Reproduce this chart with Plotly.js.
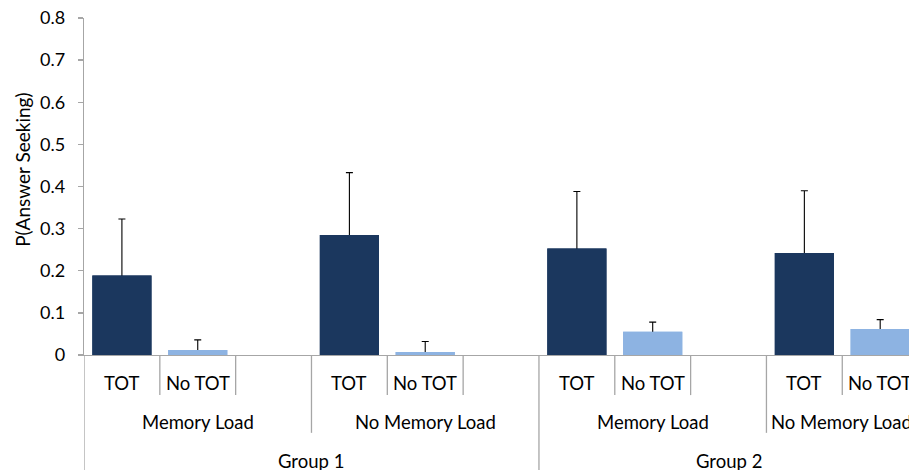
<!DOCTYPE html>
<html>
<head>
<meta charset="utf-8">
<script src="https://cdn.plot.ly/plotly-3.0.1.min.js"></script>
<style>html,body{margin:0;padding:0;background:#fff;}#chart{width:909px;height:470px;}</style>
</head>
<body>
<div id="chart"></div>
<script>
// ---- data ----
const groupLabels = ['Group 1', 'Group 2'];
const loadLabels = ['Memory Load', 'No Memory Load'];
const barLabels = ['TOT', 'No TOT'];
const totValues = [0.189, 0.285, 0.253, 0.242];
const totErrors = [0.134, 0.148, 0.135, 0.148];
const noTotValues = [0.012, 0.007, 0.055, 0.062];
const noTotErrors = [0.024, 0.025, 0.023, 0.022];
const yTitle = 'P(Answer Seeking)';

// ---- layout helpers ----
const SLOTS_PER_LOAD = 3;
const nBlocks = groupLabels.length * loadLabels.length;
const totX = [], noTotX = [];
for (let k = 0; k < nBlocks; k++) { totX.push(k * SLOTS_PER_LOAD); noTotX.push(k * SLOTS_PER_LOAD + 1); }

const FONT = 'Lato, "Open Sans", sans-serif';
const GRAY = '#a6a6a6';
const DARK = '#1b375e', LIGHT = '#8db3e2';
const xMax = 10.38;
const BW = 0.78;

// error bars drawn from a trace underneath; the lower cap is hidden by the bar drawn on top
const errTrace = (x, y, err, color) => ({
  type: 'bar', x, y, width: BW, marker: {color},
  error_y: {type: 'data', symmetric: false, array: err, arrayminus: y.map(v => Math.min(0.005, v / 2)),
            color: '#000', thickness: 1.1, width: 3.5},
  hoverinfo: 'skip', showlegend: false});
const barTrace = (x, y, color) => ({type: 'bar', x, y, width: BW, marker: {color}, hoverinfo: 'skip', showlegend: false});

const traces = [
  errTrace(totX, totValues, totErrors, DARK),
  errTrace(noTotX, noTotValues, noTotErrors, LIGHT),
  barTrace(totX, totValues, DARK),
  barTrace(noTotX, noTotValues, LIGHT)
];

const ROW1 = -0.082, ROW2 = -0.198, ROW3 = -0.314;
const LINE1 = -0.119, LINE2 = -0.231, LINE3 = -0.5;
const annotations = [], shapes = [];
const LBL = 18.5;
const txt = (x, y, text, xanchor) => annotations.push({x, y, xref: 'x', yref: 'paper', text, showarrow: false, xanchor: xanchor || 'center', yanchor: 'middle', font: {family: FONT, size: LBL, color: '#000'}});
const vline = (x, y1) => shapes.push({type: 'line', xref: 'x', yref: 'paper', x0: x, x1: x, y0: 0, y1: y1, line: {color: GRAY, width: 1.3}});

for (let k = 0; k < nBlocks; k++) {
  const base = k * SLOTS_PER_LOAD;
  txt(totX[k], ROW1, barLabels[0]);
  txt(noTotX[k], ROW1, barLabels[1]);
  vline(base + 0.5, LINE1);
  vline(base + 1.5, LINE1);
  const li = k % loadLabels.length;
  const blockStart = base - 0.5, blockEnd = base + SLOTS_PER_LOAD - 0.5;
  if (blockEnd <= xMax) txt((blockStart + blockEnd) / 2, ROW2, loadLabels[li]);
  else txt(blockStart + 0.04, ROW2, loadLabels[li], 'left');
  if (k > 0) vline(blockStart, li === 0 ? LINE3 : LINE2);
}
for (let g = 0; g < groupLabels.length; g++) {
  const gs = g * loadLabels.length * SLOTS_PER_LOAD - 0.5;
  const ge = Math.min(gs + loadLabels.length * SLOTS_PER_LOAD, xMax + 0.13);
  txt((gs + ge) / 2, ROW3, groupLabels[g]);
}
vline(-0.5, LINE3);

// y-axis title placed as rotated text
annotations.push({xref: 'paper', yref: 'paper', x: -0.0745, y: 0.548, text: yTitle, textangle: -90,
  showarrow: false, xanchor: 'center', yanchor: 'middle', font: {family: FONT, size: 19, color: '#000'}});

const layout = {
  width: 909, height: 470,
  margin: {l: 84, r: 0, t: 18, b: 115},
  paper_bgcolor: '#fff', plot_bgcolor: '#fff',
  barmode: 'overlay',
  font: {family: FONT, size: 16, color: '#000'},
  xaxis: {range: [-0.5, xMax], showticklabels: false, showgrid: false, zeroline: false,
          showline: true, linecolor: GRAY, linewidth: 1.3, ticks: '', fixedrange: true},
  yaxis: {range: [0, 0.8], dtick: 0.1, tick0: 0, showgrid: false, zeroline: false,
          showline: true, linecolor: GRAY, linewidth: 1.3, ticks: 'outside', ticklen: 5,
          tickcolor: GRAY, tickwidth: 1.3, ticklabelstandoff: 9,
          tickfont: {family: FONT, size: 18, color: '#000'}},
  annotations, shapes
};

Plotly.newPlot('chart', traces, layout, {staticPlot: true, displayModeBar: false});
</script>
</body>
</html>
